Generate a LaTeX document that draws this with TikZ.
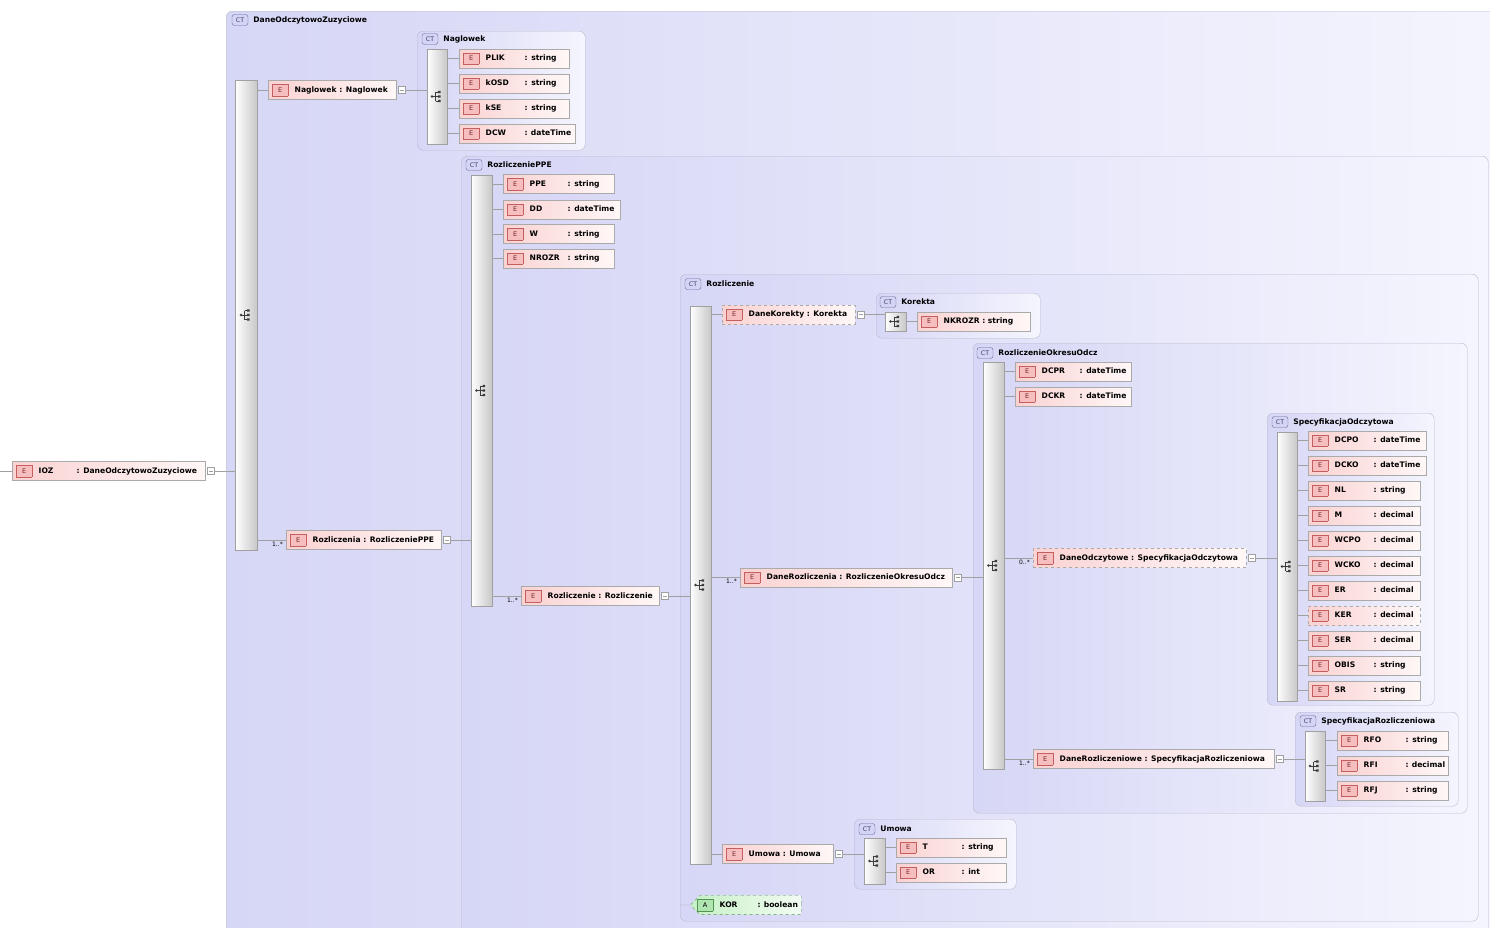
\documentclass[tikz,border=0pt]{standalone}
\usepackage{fontspec}
\setmainfont{DejaVu Sans}
\usetikzlibrary{positioning,shapes.misc}
\definecolor{ctA}{RGB}{214,214,246}
\definecolor{ctB}{RGB}{245,245,254}
\definecolor{ctbd}{RGB}{185,185,205}
\definecolor{ctbbg}{RGB}{212,212,244}
\definecolor{ctbbd}{RGB}{105,105,160}
\definecolor{ctbtx}{RGB}{60,60,110}
\definecolor{seqR}{RGB}{200,200,200}
\definecolor{seqbd}{RGB}{160,160,160}
\definecolor{elA}{RGB}{250,210,210}
\definecolor{elB}{RGB}{255,247,247}
\definecolor{elbd}{RGB}{170,170,170}
\definecolor{ebg}{RGB}{246,190,190}
\definecolor{ebd}{RGB}{195,95,95}
\definecolor{etx}{RGB}{120,40,40}
\definecolor{attA}{RGB}{198,240,198}
\definecolor{attB}{RGB}{242,252,242}
\definecolor{abg}{RGB}{176,228,176}
\definecolor{abd}{RGB}{80,150,80}
\definecolor{lnk}{RGB}{160,160,160}
\definecolor{icn}{RGB}{60,60,60}

\begin{document}
\begin{tikzpicture}
	[
	x=1pt, y=-1pt,
	link/.style = {draw=lnk},
	ct/.style = {draw=ctbd, rounded corners=6pt, left color=ctA, right color=ctB, anchor=north west, inner sep=0pt},
	ctb/.style = {draw=ctbbd, fill=ctbbg, rounded corners=2.5pt, minimum width=16pt, minimum height=11pt, inner sep=0pt, text=ctbtx, font=\fontsize{6.2}{7}\selectfont},
	ctl/.style = {inner sep=0pt, font=\bfseries\fontsize{7.6}{9}\selectfont},
	seq/.style = {draw=seqbd, left color=white, right color=seqR},
	seqicon/.pic = {
		\fill[icn] (-5,0) circle (1.4pt);
		\draw[icn, line width=0.6pt] (-5,0) -- (-1.5,0) (-1.5,-4.5) -- (-1.5,4.5) (-1.5,-4.5) -- (2,-4.5) (-1.5,0) -- (2,0) (-1.5,4.5) -- (2,4.5);
		\fill[icn] (1.2,-5.7) rectangle (3.6,-3.3) (1.2,-1.2) rectangle (3.6,1.2) (1.2,3.3) rectangle (3.6,5.7);
	},
	el/.style = {draw=elbd, left color=elA, right color=elB, anchor=west, minimum height=19pt, inner xsep=4pt, inner ysep=0pt, font=\bfseries\fontsize{7.6}{9}\selectfont,
		execute at begin node={\hbox to #1\bgroup\setlength{\fboxsep}{1.5pt}\fcolorbox{ebd}{ebg}{\makebox[12.2pt]{\rule[-1.8pt]{0pt}{8pt}\mdseries\fontsize{6.5}{7}\selectfont\color{etx}E}}\hspace{6.5pt}},
		execute at end node={\hfil\egroup}},
	opt/.style = {dashed},
	att/.style = {chamfered rectangle, chamfered rectangle corners={north west,south west}, chamfered rectangle xsep=5pt, draw=abd, dashed, left color=attA, right color=attB, anchor=west, minimum height=19pt, inner xsep=1pt, inner ysep=0pt, font=\bfseries\fontsize{7.6}{9}\selectfont,
		execute at begin node={\hbox to #1\bgroup\setlength{\fboxsep}{1.5pt}\fcolorbox{abd}{abg}{\makebox[12.2pt]{\rule[-1.8pt]{0pt}{8pt}\mdseries\fontsize{6.5}{7}\selectfont A}}\hspace{6.5pt}},
		execute at end node={\hfil\egroup}},
	pm/.style = {draw=lnk, fill=white, minimum size=7pt, inner sep=0pt, path picture={\draw[lnk] ([xshift=1.5pt]path picture bounding box.west) -- ([xshift=-1.5pt]path picture bounding box.east);}},
	card/.style = {inner sep=0pt, font=\fontsize{6}{7}\selectfont}
	]
	
	\path[use as bounding box, clip] (0,0) rectangle (1490,927);
	
	\node[ct, minimum width=1290, minimum height=940] (dozbox) at (226,11) {};
	\node[ctb] (dozct) at (240,20) {CT};
	\node[ctl, right=5pt of dozct] (dozlab) {DaneOdczytowoZuzyciowe};
	\node[seq, minimum width=22, minimum height=470] (dozseq) at (246,315) {};
	\pic at (dozseq) {seqicon};
	
	\coordinate (iozin) at (0,471);
	\node[el=185pt] (ioz) at (12,471) {\makebox[38pt][l]{IOZ}: DaneOdczytowoZuzyciowe};
	\node[pm, right=2pt of ioz] (iozpm) {};
	
	\node[el=120pt] (nagl) at (268,90) {Naglowek : Naglowek};
	\node[pm, right=2pt of nagl] (naglpm) {};
	\node[ct, minimum width=168, minimum height=119] (nagbox) at (417,31) {};
	\node[ctb] (nagct) at (430,39) {CT};
	\node[ctl, right=5pt of nagct] (naglab) {Naglowek};
	\node[seq, minimum width=20, minimum height=95] (nagseq) at (437,96.5) {};
	\pic at (nagseq) {seqicon};
	\node[el=102pt] (plik) at (459,58.5) {\makebox[39pt][l]{PLIK}: string};
	\node[el=102pt] (kosd) at (459,83.5) {\makebox[39pt][l]{kOSD}: string};
	\node[el=102pt] (kse) at (459,108.5) {\makebox[39pt][l]{kSE}: string};
	\node[el=108pt] (dcw) at (459,133.5) {\makebox[39pt][l]{DCW}: dateTime};
	
	\node[el=147pt] (rozl) at (286,540) {Rozliczenia : RozliczeniePPE};
	\node[card, left=3pt of rozl.west, yshift=-4pt] (rozlcard) {1..*};
	\node[pm, right=2pt of rozl] (rozlpm) {};
	\node[ct, minimum width=1027, minimum height=790] (ppebox) at (461,156) {};
	\node[ctb] (ppect) at (474,165) {CT};
	\node[ctl, right=5pt of ppect] (ppelab) {RozliczeniePPE};
	\node[seq, minimum width=21, minimum height=431] (ppeseq) at (481.5,390.5) {};
	\pic at (ppeseq) {seqicon};
	\node[el=103pt] (ppe) at (503,184) {\makebox[38pt][l]{PPE}: string};
	\node[el=109pt] (dd) at (503,209.5) {\makebox[38pt][l]{DD}: dateTime};
	\node[el=103pt] (w) at (503,234) {\makebox[38pt][l]{W}: string};
	\node[el=103pt] (nrozr) at (503,258.5) {\makebox[38pt][l]{NROZR}: string};
	
	\node[el=130pt] (rozn) at (521,596) {Rozliczenie : Rozliczenie};
	\node[card, left=3pt of rozn.west, yshift=-4pt] (rozncard) {1..*};
	\node[pm, right=2pt of rozn] (roznpm) {};
	\node[ct, minimum width=798, minimum height=647] (rozbox) at (680,274) {};
	\node[ctb] (rozct) at (693,284) {CT};
	\node[ctl, right=5pt of rozct] (rozlab) {Rozliczenie};
	\node[seq, minimum width=21, minimum height=558] (rozseq) at (700.5,585) {};
	\pic at (rozseq) {seqicon};
	
	\node[el=125pt, opt] (dkor) at (722,314.5) {DaneKorekty : Korekta};
	\node[pm, right=2pt of dkor] (dkorpm) {};
	\node[ct, minimum width=164, minimum height=45] (korbox) at (876,293) {};
	\node[ctb] (korct) at (888,302) {CT};
	\node[ctl, right=5pt of korct] (korlab) {Korekta};
	\node[seq, minimum width=21, minimum height=19] (korseq) at (895.5,321.5) {};
	\pic at (korseq) {seqicon};
	\node[el=105pt] (nkrozr) at (917,321.5) {NKROZR : string};
	
	\node[el=204pt] (drozl) at (740,577.5) {DaneRozliczenia : RozliczenieOkresuOdcz};
	\node[card, left=3pt of drozl.west, yshift=-4pt] (drozlcard) {1..*};
	\node[pm, right=2pt of drozl] (drozlpm) {};
	\node[ct, minimum width=494, minimum height=470] (okrbox) at (973,343) {};
	\node[ctb] (okrct) at (985,353) {CT};
	\node[ctl, right=5pt of okrct] (okrlab) {RozliczenieOkresuOdcz};
	\node[seq, minimum width=21, minimum height=407] (okrseq) at (993.5,565.5) {};
	\pic at (okrseq) {seqicon};
	\node[el=108pt] (dcpr) at (1015,371.5) {\makebox[38pt][l]{DCPR}: dateTime};
	\node[el=108pt] (dckr) at (1015,396.5) {\makebox[38pt][l]{DCKR}: dateTime};
	
	\node[el=205pt, opt] (dodcz) at (1033,558) {DaneOdczytowe : SpecyfikacjaOdczytowa};
	\node[card, left=3pt of dodcz.west, yshift=-4pt] (dodczcard) {0..*};
	\node[pm, right=2pt of dodcz] (dodczpm) {};
	\node[ct, minimum width=167, minimum height=292] (odcbox) at (1267,413) {};
	\node[ctb] (odcct) at (1280,422) {CT};
	\node[ctl, right=5pt of odcct] (odclab) {SpecyfikacjaOdczytowa};
	\node[seq, minimum width=20, minimum height=269] (odcseq) at (1287,566.5) {};
	\pic at (odcseq) {seqicon};
	\node[el=110pt] (dcpo) at (1308,440.5) {\makebox[39pt][l]{DCPO}: dateTime};
	\node[el=110pt] (dcko) at (1308,465.5) {\makebox[39pt][l]{DCKO}: dateTime};
	\node[el=104pt] (nl) at (1308,490.5) {\makebox[39pt][l]{NL}: string};
	\node[el=104pt] (m) at (1308,515.5) {\makebox[39pt][l]{M}: decimal};
	\node[el=104pt] (wcpo) at (1308,540.5) {\makebox[39pt][l]{WCPO}: decimal};
	\node[el=104pt] (wcko) at (1308,565.5) {\makebox[39pt][l]{WCKO}: decimal};
	\node[el=104pt] (er) at (1308,590.5) {\makebox[39pt][l]{ER}: decimal};
	\node[el=104pt, opt] (ker) at (1308,615.5) {\makebox[39pt][l]{KER}: decimal};
	\node[el=104pt] (ser) at (1308,640.5) {\makebox[39pt][l]{SER}: decimal};
	\node[el=104pt] (obis) at (1308,665.5) {\makebox[39pt][l]{OBIS}: string};
	\node[el=104pt] (sr) at (1308,690.5) {\makebox[39pt][l]{SR}: string};
	
	\node[el=233pt] (drozw) at (1033,759) {DaneRozliczeniowe : SpecyfikacjaRozliczeniowa};
	\node[card, left=3pt of drozw.west, yshift=-4pt] (drozwcard) {1..*};
	\node[pm, right=2pt of drozw] (drozwpm) {};
	\node[ct, minimum width=163, minimum height=94] (rfbox) at (1295,712) {};
	\node[ctb] (rfct) at (1308,721) {CT};
	\node[ctl, right=5pt of rfct] (rflab) {SpecyfikacjaRozliczeniowa};
	\node[seq, minimum width=20, minimum height=70] (rfseq) at (1315,766) {};
	\pic at (rfseq) {seqicon};
	\node[el=103pt] (rfo) at (1337,740.5) {\makebox[42pt][l]{RFO}: string};
	\node[el=103pt] (rfi) at (1337,765.5) {\makebox[42pt][l]{RFI}: decimal};
	\node[el=103pt] (rfj) at (1337,790.5) {\makebox[42pt][l]{RFJ}: string};
	
	\node[el=103pt] (umowa) at (722,854) {Umowa : Umowa};
	\node[pm, right=2pt of umowa] (umowapm) {};
	\node[ct, minimum width=162, minimum height=70] (umbox) at (854,819) {};
	\node[ctb] (umct) at (867,829) {CT};
	\node[ctl, right=5pt of umct] (umlab) {Umowa};
	\node[seq, minimum width=21, minimum height=46] (umseq) at (874.5,861) {};
	\pic at (umseq) {seqicon};
	\node[el=102pt] (t) at (896,847.5) {\makebox[39pt][l]{T}: string};
	\node[el=102pt] (or) at (896,872.5) {\makebox[39pt][l]{OR}: int};
	
	\node[att=98pt] (kor) at (691,905) {\makebox[38pt][l]{KOR}: boolean};
	
	\draw[link] (iozin) -- (ioz);
	\draw[link] (iozpm) -- (iozpm -| dozseq.west);
	\draw[link] (dozseq.east |- nagl.west) -- (nagl) (dozseq.east |- rozl.west) -- (rozl);
	\draw[link] (naglpm) -- (naglpm -| nagseq.west);
	\draw[link] (nagseq.east |- plik.west) -- (plik) (nagseq.east |- kosd.west) -- (kosd) (nagseq.east |- kse.west) -- (kse) (nagseq.east |- dcw.west) -- (dcw);
	\draw[link] (rozlpm) -- (rozlpm -| ppeseq.west);
	\draw[link] (ppeseq.east |- ppe.west) -- (ppe) (ppeseq.east |- dd.west) -- (dd) (ppeseq.east |- w.west) -- (w) (ppeseq.east |- nrozr.west) -- (nrozr) (ppeseq.east |- rozn.west) -- (rozn);
	\draw[link] (roznpm) -- (roznpm -| rozseq.west);
	\draw[link] (rozseq.east |- dkor.west) -- (dkor) (rozseq.east |- drozl.west) -- (drozl) (rozseq.east |- umowa.west) -- (umowa);
	\draw[link] (dkorpm) -- (dkorpm -| korseq.west);
	\draw[link] (korseq.east |- nkrozr.west) -- (nkrozr);
	\draw[link] (drozlpm) -- (drozlpm -| okrseq.west);
	\draw[link] (okrseq.east |- dcpr.west) -- (dcpr) (okrseq.east |- dckr.west) -- (dckr) (okrseq.east |- dodcz.west) -- (dodcz) (okrseq.east |- drozw.west) -- (drozw);
	\draw[link] (dodczpm) -- (dodczpm -| odcseq.west);
	\draw[link] (odcseq.east |- dcpo.west) -- (dcpo) (odcseq.east |- dcko.west) -- (dcko) (odcseq.east |- nl.west) -- (nl) (odcseq.east |- m.west) -- (m) (odcseq.east |- wcpo.west) -- (wcpo) (odcseq.east |- wcko.west) -- (wcko) (odcseq.east |- er.west) -- (er) (odcseq.east |- ker.west) -- (ker) (odcseq.east |- ser.west) -- (ser) (odcseq.east |- obis.west) -- (obis) (odcseq.east |- sr.west) -- (sr);
	\draw[link] (drozwpm) -- (drozwpm -| rfseq.west);
	\draw[link] (rfseq.east |- rfo.west) -- (rfo) (rfseq.east |- rfi.west) -- (rfi) (rfseq.east |- rfj.west) -- (rfj);
	\draw[link] (umowapm) -- (umowapm -| umseq.west);
	\draw[link] (umseq.east |- t.west) -- (t) (umseq.east |- or.west) -- (or);
	\draw[link] (kor.west -| rozbox.west) -- (kor);
	
\end{tikzpicture}
\end{document}
